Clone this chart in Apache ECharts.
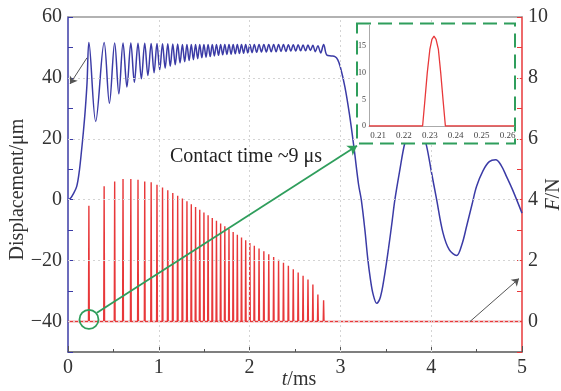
<!DOCTYPE html>
<html><head><meta charset="utf-8">
<script src="https://cdn.jsdelivr.net/npm/echarts@6/dist/echarts.min.js"></script>
<style>html,body{margin:0;padding:0;background:#fff}#c{width:561px;height:391px}</style>
</head><body><div id="c"></div>
<script>
// ---------- data ----------
const pulseT = [0.230,0.398,0.514,0.606,0.692,0.771,0.845,0.916,0.980,1.041,1.099,1.154,1.208,1.260,1.310,1.358,1.405,1.451,1.497,1.543,1.589,1.635,1.681,1.727,1.773,1.819,1.865,1.911,1.957,2.003,2.052,2.104,2.157,2.211,2.265,2.319,2.373,2.427,2.481,2.535,2.589,2.643,2.697,2.752,2.815];
const pulseF = [3.80,4.44,4.60,4.68,4.68,4.66,4.60,4.57,4.49,4.40,4.31,4.22,4.13,4.04,3.95,3.85,3.76,3.67,3.58,3.49,3.40,3.31,3.22,3.13,3.04,2.94,2.85,2.76,2.67,2.58,2.49,2.40,2.31,2.21,2.12,2.03,1.93,1.83,1.72,1.61,1.50,1.38,1.22,0.89,0.70];
const peakDisp = [51.6,51.6,51.5,51.5,51.5,51.4,51.4,51.3,51.3,51.2,51.2,51.1,51.1,51.0,51.0,51.0,51.0,51.0,51.0,51.0,51.0,51.0,51.0,51.0,51.0,51.0,51.0,51.0,51.0,51.0,51.0,51.0,51.0,51.0,51.0,51.0,51.0,50.9,50.9,50.9,50.8,50.8,50.7,50.6,51.0];
const valleyT = [0.305,0.456,0.560,0.649,0.731,0.808,0.880,0.948,1.010,1.070,1.126,1.181,1.234,1.285,1.334,1.381,1.428,1.474,1.520,1.566,1.612,1.658,1.704,1.750,1.796,1.842,1.888,1.934,1.980,2.027,2.078,2.130,2.184,2.238,2.292,2.346,2.400,2.454,2.508,2.562,2.616,2.670,2.724,2.783];
const valleyDisp = [25.7,31.7,34.8,37.0,38.6,39.7,40.8,41.7,42.6,43.2,43.8,44.3,44.9,45.3,45.7,46.0,46.3,46.6,46.8,47.0,47.2,47.4,47.6,47.7,47.8,47.9,48.0,48.1,48.2,48.3,48.4,48.5,48.5,48.6,48.6,48.7,48.7,48.8,48.8,48.9,48.9,49.0,48.6,48.2];
const riseT = [0,0.03,0.06,0.096,0.125,0.15,0.17,0.19,0.21];
const riseDisp = [0,0.6,2.0,4.4,9.5,16.4,22.5,29.5,38.5];
const tailT = [2.85,2.90,2.94,2.97,3.00,3.05,3.10,3.15,3.20,3.23,3.27,3.30,3.33,3.36,3.40,3.44,3.48,3.53,3.57,3.60,3.65,3.71,3.77,3.83,3.89,3.95,4.00,4.06,4.13,4.20,4.28,4.34,4.39,4.45,4.50,4.57,4.64,4.71,4.77,4.83,4.90,5.00];
const tailDisp = [47.5,47.2,47.0,46.0,43.5,37.0,28.0,17.0,5.0,0,-10,-19,-26,-31,-34,-32,-26,-16,-7,0,9,18.7,24,26,24,17.5,9.5,0,-10.9,-16.5,-18.3,-14.5,-8.7,-1.5,4.4,9.5,12.5,13.1,11.3,7.6,3.0,-4.4];
const insetT = [0.2065,0.2272,0.2281,0.2290,0.2300,0.2308,0.2316,0.2324,0.2333,0.2342,0.2351,0.2360,0.2625];
const insetF = [0,0,4.9,10,14.4,16.3,16.9,16.3,14.4,10,4.9,0,0];
const xTicks = [0,1,2,3,4,5];
const dispTicks = [-40,-20,0,20,40,60];
const forceTicks = [0,2,4,6,8,10];
const insetXTicks = [0.21,0.22,0.23,0.24,0.25,0.26];
const insetYTicks = [0,5,10,15];

// ---------- build series tables ----------
const disp = [];
riseT.forEach((t,i)=>disp.push([t, riseDisp[i]]));
pulseT.forEach((t,i)=>{ disp.push([t, peakDisp[i]]); if (i < valleyT.length) disp.push([valleyT[i], valleyDisp[i]]); });
tailT.forEach((t,i)=>disp.push([t, tailDisp[i]]));

const HALF = 0.0045; // half contact time (ms)
const force = [[0,0]];
pulseT.forEach((t,i)=>{ force.push([t-HALF,0],[t,pulseF[i]],[t+HALF,0]); });
force.push([5,0]);

const inset = insetT.map((t,i)=>[t, insetF[i]]);

const SERIF = "'Liberation Serif','Times New Roman',serif";
const BLUE = '#3b3ba6', RED = '#e8383a', GREEN = '#2f9e5c';
const minus = v => String(v).replace('-', '\u2212');
const near = (a, list) => list.some(x => Math.abs(x - a) < 1e-6);

const chart = echarts.init(document.getElementById('c'), null, {renderer:'canvas'});
chart.setOption({
  animation: false,
  backgroundColor: '#fff',
  grid: [
    {left:68, right:39, top:17, bottom:39, containLabel:false, outerBoundsMode:'none'},
    {left:369, top:25, width:145, height:101, containLabel:false, outerBoundsMode:'none', z:60}
  ],
  xAxis: [
    {type:'value', gridIndex:0, min:0, max:5, interval:1, position:'bottom',
     axisLine:{onZero:false, lineStyle:{color:'#555', width:1.5}},
     axisTick:{inside:true, length:6, lineStyle:{color:'#555'}},
     minorTick:{show:true, splitNumber:2, length:3, lineStyle:{color:'#555'}},
     splitLine:{show:false},
     axisLabel:{fontFamily:SERIF, fontSize:20, color:'#333', margin:6,
       formatter: v => near(v, xTicks) ? String(v) : ''},
     name:'{i|t}/ms', nameLocation:'middle', nameGap:18, nameMoveOverlap:false,
     nameTextStyle:{fontFamily:SERIF, fontSize:20, color:'#333', padding:[0,0,0,8],
       rich:{i:{fontStyle:'italic', fontFamily:SERIF, fontSize:20, color:'#333'}}}},
    {type:'value', gridIndex:0, min:0, max:5, position:'top',
     axisLine:{onZero:false, lineStyle:{color:'#999', width:1.5}}, axisTick:{show:false},
     axisLabel:{show:false}, splitLine:{show:false}},
    {type:'value', gridIndex:1, min:0.2065, max:0.2625, interval:0.0005, z:60, position:'bottom',
     axisLine:{onZero:false, lineStyle:{color:'#aaa', width:1}}, axisTick:{show:false}, splitLine:{show:false},
     axisLabel:{fontFamily:SERIF, fontSize:9, color:'#444', margin:5,
       formatter: v => { const r = Math.round(v*100); return (Math.abs(v*100 - r) < 1e-6 && near(r/100, insetXTicks)) ? (r/100).toFixed(2) : ''; }}}
  ],
  yAxis: [
    {type:'value', gridIndex:0, min:-50, max:60, interval:10, position:'left',
     axisLine:{show:true, onZero:false, lineStyle:{color:BLUE, width:1.5}},
     axisTick:{show:true, inside:true, length:5, lineStyle:{color:BLUE}},
     splitLine:{show:false},
     axisLabel:{fontFamily:SERIF, fontSize:20, color:'#333', margin:6,
       formatter: v => near(v, dispTicks) ? minus(v) : ''},
     name:'Displacement/\u03bcm', nameLocation:'middle', nameGap:40, nameMoveOverlap:false,
     nameTextStyle:{fontFamily:SERIF, fontSize:20, color:'#333', padding:[0,10,0,0]}},
    {type:'value', gridIndex:0, min:-1, max:10, interval:1, position:'right',
     axisLine:{show:true, onZero:false, lineStyle:{color:RED, width:1.5}},
     axisTick:{show:true, inside:true, length:5, lineStyle:{color:RED}},
     splitLine:{show:false},
     axisLabel:{fontFamily:SERIF, fontSize:20, color:'#333', margin:6,
       formatter: v => near(v, forceTicks) ? String(v) : ''},
     name:'{i|F}/N', nameLocation:'middle', nameGap:22, nameMoveOverlap:false,
     nameTextStyle:{fontFamily:SERIF, fontSize:20, color:'#333', padding:[0,20,0,0],
       rich:{i:{fontStyle:'italic', fontFamily:SERIF, fontSize:20, color:'#333'}}}},
    {type:'value', gridIndex:1, min:0, max:19, interval:5, z:60, position:'left',
     axisLine:{show:true, onZero:false, lineStyle:{color:'#aaa', width:1}}, axisTick:{show:false}, splitLine:{show:false},
     axisLabel:{fontFamily:SERIF, fontSize:8, color:'#444', margin:3,
       formatter: v => near(v, insetYTicks) ? String(v) : ''}}
  ],
  graphic: {elements: [
    {type:'rect', z:50, shape:{x:357, y:23.5, width:158, height:120},
     style:{fill:'#fff', stroke:GREEN, lineWidth:2, lineDash:[14,7]}},
    {type:'text', z:10, x:170, y:157,
     style:{text:'Contact time ~9 \u03bcs', fontFamily:SERIF, fontSize:20, fill:'#222', textVerticalAlign:'middle'}}
  ]},
  series: [
    {name:'grid', type:'line', xAxisIndex:0, yAxisIndex:0, data:[[0,0]], z:1, silent:true,
     symbol:'none', lineStyle:{width:0},
     markLine:{silent:true, symbol:'none', label:{show:false},
       lineStyle:{color:'#d4d4d4', type:[2,3], width:1},
       data:[{yAxis:-40},{yAxis:-20},{yAxis:0},{yAxis:20},{yAxis:40},{xAxis:1},{xAxis:2},{xAxis:3},{xAxis:4}]}},
    {name:'Displacement', type:'line', xAxisIndex:0, yAxisIndex:0, data:disp, z:3,
     symbol:'none', smooth:0.35, lineStyle:{color:BLUE, width:1.5},
     markLine:{silent:true, symbol:['none','arrow'], symbolSize:7, label:{show:false},
       lineStyle:{color:'#555', width:1, type:'solid'},
       data:[[{coord:[0.209,46.6]},{coord:[0.022,38.0]}]]}},
    {name:'Force', type:'line', xAxisIndex:0, yAxisIndex:1, data:force, z:4,
     symbol:'none', lineStyle:{color:RED, width:1.4},
     markLine:{silent:true, symbol:['none','arrow'], symbolSize:7, label:{show:false},
       lineStyle:{color:'#555', width:1, type:'solid'},
       data:[[{coord:[4.427,0]},{coord:[4.967,1.41]}]]}},
    {name:'annot', type:'line', xAxisIndex:0, yAxisIndex:1, data:[], z:55,
     symbol:'none',
     markLine:{silent:true, symbol:['none','arrow'], symbolSize:9, label:{show:false},
       lineStyle:{color:GREEN, width:1.8, type:'solid'},
       data:[[{coord:[0.3186,0.285]},{coord:[3.183,5.77]}]]},
     markPoint:{silent:true, label:{show:false},
       data:[{coord:[0.231,0.07], symbol:'circle', symbolSize:19,
         itemStyle:{color:'rgba(0,0,0,0)', borderColor:GREEN, borderWidth:1.8}}]}},
    {name:'Inset force', type:'line', xAxisIndex:2, yAxisIndex:2, data:inset, z:60,
     symbol:'none', lineStyle:{color:RED, width:1.3}}
  ]
});
</script></body></html>
